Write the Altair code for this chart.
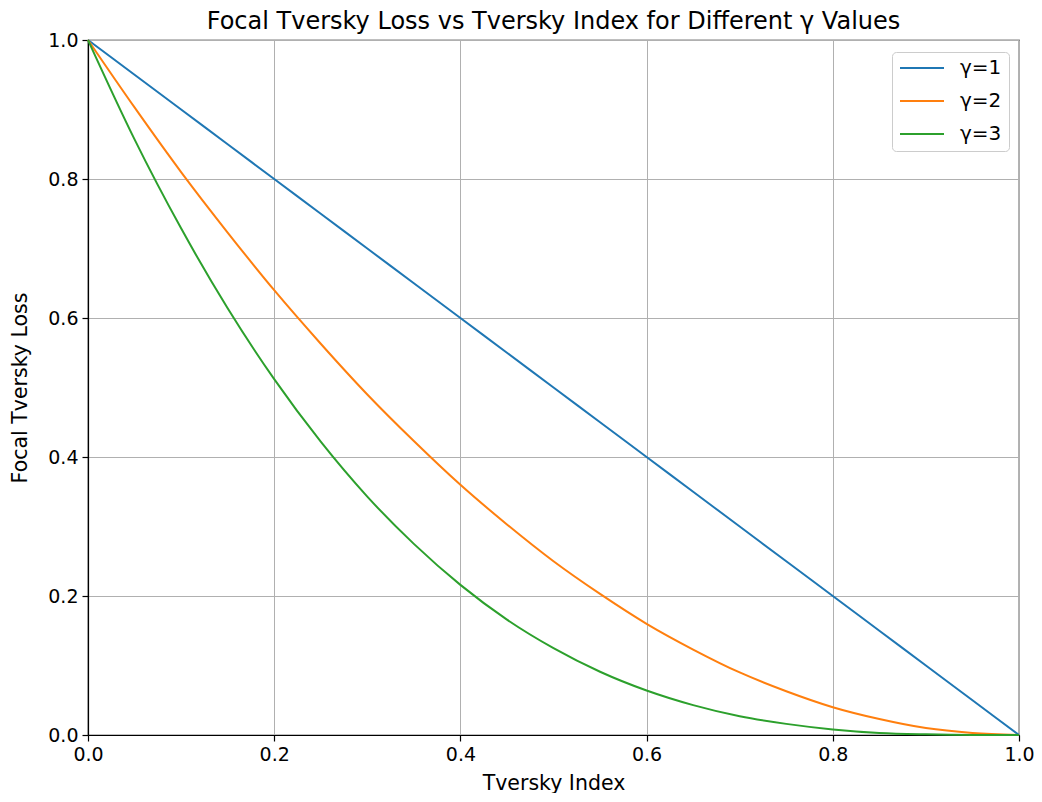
import altair as alt
import pandas as pd

tversky_index = [0.0, 0.05, 0.1, 0.15, 0.2, 0.25, 0.3, 0.35, 0.4, 0.45, 0.5,
                 0.55, 0.6, 0.65, 0.7, 0.75, 0.8, 0.85, 0.9, 0.95, 1.0]
loss_g1 = [1.0, 0.95, 0.9, 0.85, 0.8, 0.75, 0.7, 0.65, 0.6, 0.55, 0.5,
           0.45, 0.4, 0.35, 0.3, 0.25, 0.2, 0.15, 0.1, 0.05, 0.0]
loss_g2 = [1.0, 0.903, 0.81, 0.723, 0.64, 0.563, 0.49, 0.423, 0.36, 0.303, 0.25,
           0.203, 0.16, 0.123, 0.09, 0.063, 0.04, 0.023, 0.01, 0.003, 0.0]
loss_g3 = [1.0, 0.857, 0.729, 0.614, 0.512, 0.422, 0.343, 0.275, 0.216, 0.166, 0.125,
           0.091, 0.064, 0.043, 0.027, 0.016, 0.008, 0.003, 0.001, 0.0001, 0.0]
series_names = ["γ=1", "γ=2", "γ=3"]
series_colors = ["#1f77b4", "#ff7f0e", "#2ca02c"]

rows = []
for name, vals in zip(series_names, [loss_g1, loss_g2, loss_g3]):
    for x, y in zip(tversky_index, vals):
        rows.append({"x": x, "y": y, "gamma": name})
df = pd.DataFrame(rows)

FONT = "DejaVu Sans"

chart = alt.Chart(df).mark_line(strokeWidth=2, interpolate="monotone").encode(
    x=alt.X("x:Q", title="Tversky Index",
            scale=alt.Scale(domain=[0, 1], nice=False, zero=False),
            axis=alt.Axis(values=[0, 0.2, 0.4, 0.6, 0.8, 1.0], format=".1f",
                          titlePadding=9, labelFlush=False)),
    y=alt.Y("y:Q", title="Focal Tversky Loss",
            scale=alt.Scale(domain=[0, 1], nice=False, zero=False),
            axis=alt.Axis(values=[0, 0.2, 0.4, 0.6, 0.8, 1.0], format=".1f",
                          titlePadding=17, labelFlush=False)),
    color=alt.Color("gamma:N", sort=series_names,
                    scale=alt.Scale(domain=series_names, range=series_colors),
                    legend=alt.Legend(title=None, orient="none",
                                      legendX=804, legendY=12,
                                      symbolType="stroke", symbolSize=1936,
                                      symbolStrokeWidth=2, clipHeight=18,
                                      rowPadding=13, labelOffset=15,
                                      labelFontSize=20, labelFont=FONT,
                                      labelColor="#000000",
                                      padding=7, strokeColor="#cccccc",
                                      cornerRadius=4, fillColor="white")),
).properties(
    width=931, height=695,
    title=alt.TitleParams("Focal Tversky Loss vs Tversky Index for Different γ Values",
                          fontSize=24, font=FONT, fontWeight="normal",
                          anchor="middle", frame="group", offset=-3,
                          color="#000000"),
    autosize=alt.AutoSizeParams(type="none"),
    padding={"left": 80, "top": 32, "right": 15, "bottom": 58},
).configure_view(
    stroke="#000000", strokeWidth=1.2
).configure_axis(
    grid=True, gridColor="#b0b0b0", gridWidth=1,
    domainColor="#000000", domainWidth=1.2,
    tickColor="#000000", tickSize=6, tickWidth=1.2,
    labelFont=FONT, labelFontSize=19, labelColor="#000000", labelPadding=4,
    titleFont=FONT, titleFontSize=20.5, titleFontWeight="normal", titleColor="#000000",
)

chart.save("out.html", embed_options={"renderer": "svg", "actions": False})
